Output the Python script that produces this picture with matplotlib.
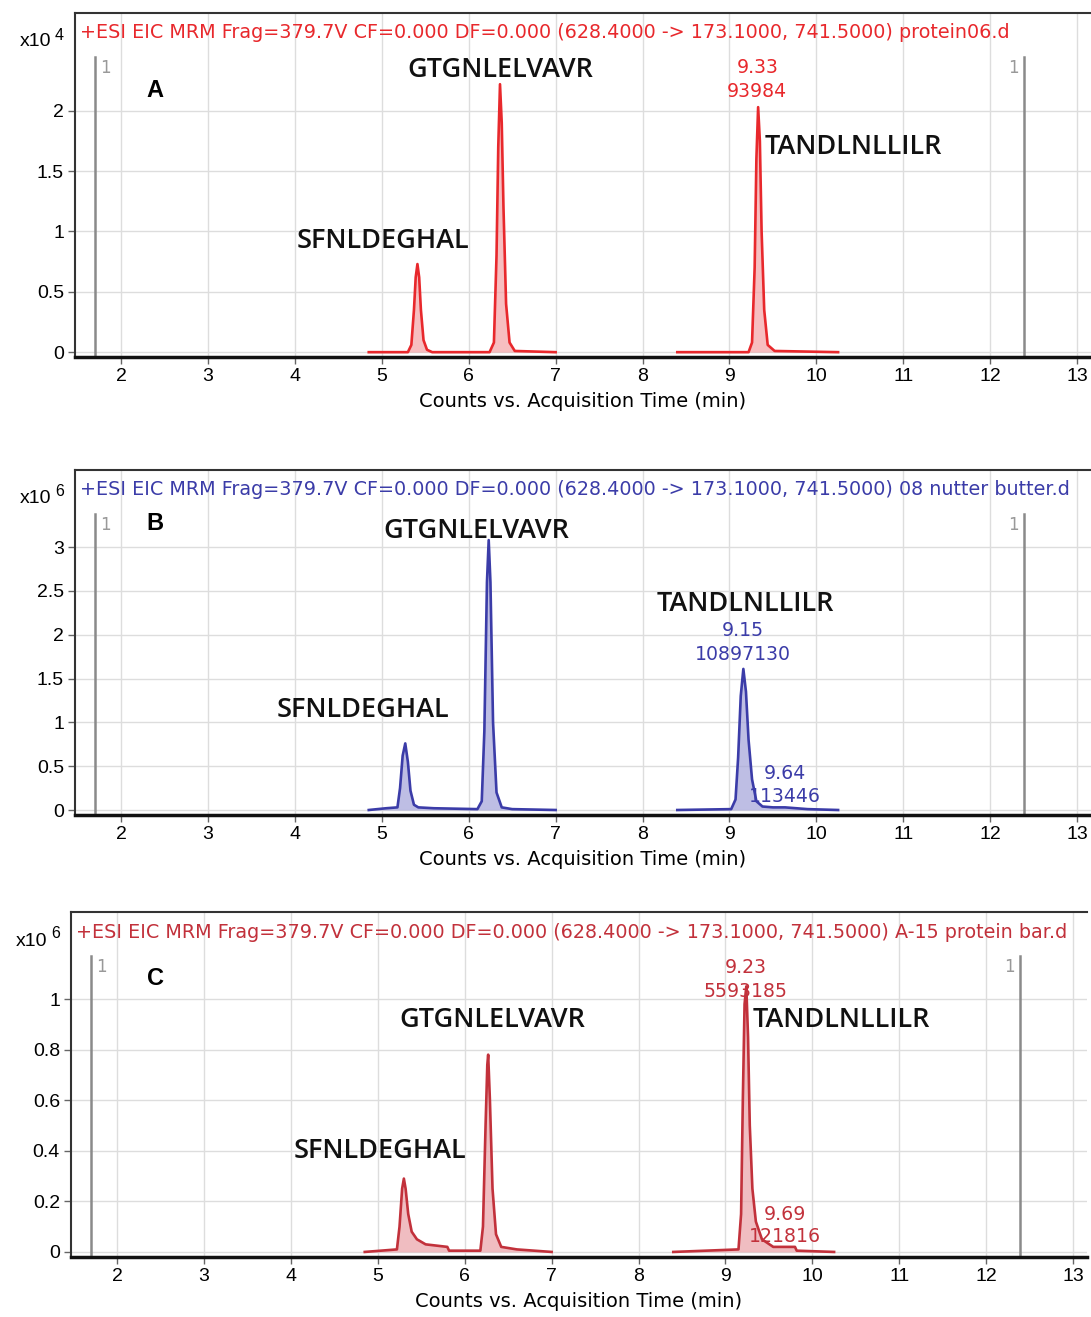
import matplotlib.pyplot as plt
import matplotlib.transforms as mtransforms

# ---- data (time in min, counts in panel units) ----
header = "+ESI EIC MRM Frag=379.7V CF=0.000 DF=0.000 (628.4000 -> 173.1000, 741.5000) "
samples = ["protein06.d", "08 nutter butter.d", "A-15 protein bar.d"]
panel_letters = ["A", "B", "C"]
exponents = ["4", "6", "6"]

# panel A (x10^4)
a_seg1_t = [4.85, 5.30, 5.34, 5.37, 5.39, 5.41, 5.43, 5.45, 5.48, 5.52, 5.58,
            6.24, 6.29, 6.32, 6.34, 6.36, 6.38, 6.40, 6.43, 6.47, 6.53, 7.00]
a_seg1_y = [0.0, 0.0, 0.06, 0.35, 0.62, 0.73, 0.62, 0.35, 0.1, 0.02, 0.0,
            0.0, 0.08, 0.8, 1.7, 2.22, 1.9, 1.2, 0.4, 0.08, 0.01, 0.0]
a_seg2_t = [8.40, 9.22, 9.26, 9.29, 9.31, 9.33, 9.35, 9.37, 9.40, 9.44, 9.52, 10.25]
a_seg2_y = [0.0, 0.0, 0.08, 0.7, 1.6, 2.03, 1.75, 1.0, 0.35, 0.06, 0.01, 0.0]

# panel B (x10^6)
b_seg1_t = [4.85, 5.05, 5.18, 5.21, 5.24, 5.27, 5.30, 5.33, 5.37, 5.42, 5.60,
            6.10, 6.15, 6.18, 6.21, 6.23, 6.25, 6.28, 6.32, 6.38, 6.50, 7.00]
b_seg1_y = [0.0, 0.02, 0.03, 0.25, 0.62, 0.76, 0.55, 0.22, 0.06, 0.03, 0.02,
            0.01, 0.1, 0.9, 2.6, 3.08, 2.6, 1.0, 0.2, 0.03, 0.01, 0.0]
b_seg2_t = [8.40, 9.02, 9.07, 9.10, 9.13, 9.16, 9.19, 9.22, 9.26, 9.31, 9.38, 9.50, 9.64, 9.90, 10.25]
b_seg2_y = [0.0, 0.01, 0.12, 0.6, 1.3, 1.61, 1.35, 0.8, 0.35, 0.1, 0.04, 0.03, 0.03, 0.01, 0.0]

# panel C (x10^6)
c_seg1_t = [4.85, 5.22, 5.25, 5.28, 5.30, 5.32, 5.35, 5.39, 5.45, 5.55, 5.80, 5.82,
            6.18, 6.21, 6.24, 6.26, 6.27, 6.29, 6.32, 6.36, 6.42, 6.60, 7.00]
c_seg1_y = [0.0, 0.01, 0.1, 0.25, 0.29, 0.25, 0.15, 0.08, 0.05, 0.03, 0.02, 0.005,
            0.005, 0.1, 0.5, 0.74, 0.78, 0.6, 0.25, 0.07, 0.02, 0.01, 0.0]
c_seg2_t = [8.40, 9.15, 9.18, 9.20, 9.22, 9.24, 9.26, 9.28, 9.31, 9.35, 9.42, 9.55, 9.80, 9.82, 10.25]
c_seg2_y = [0.0, 0.01, 0.15, 0.6, 0.98, 1.05, 0.85, 0.5, 0.25, 0.12, 0.05, 0.02, 0.02, 0.005, 0.0]

segments = [
    [(a_seg1_t, a_seg1_y), (a_seg2_t, a_seg2_y)],
    [(b_seg1_t, b_seg1_y), (b_seg2_t, b_seg2_y)],
    [(c_seg1_t, c_seg1_y), (c_seg2_t, c_seg2_y)],
]

y_ticks = [[0, 0.5, 1, 1.5, 2], [0, 0.5, 1, 1.5, 2, 2.5, 3], [0, 0.2, 0.4, 0.6, 0.8, 1]]
y_ticklabels = [["0", "0.5", "1", "1.5", "2"],
                ["0", "0.5", "1", "1.5", "2", "2.5", "3"],
                ["0", "0.2", "0.4", "0.6", "0.8", "1"]]
y_limits = [(-0.04, 2.81), (-0.057, 3.88), (-0.02, 1.344)]
x_ticks = list(range(2, 14))

# peptide labels: (text, x, y, ha)
peptides = [
    [("GTGNLELVAVR", 6.36, 2.34, "center"), ("SFNLDEGHAL", 5.01, 0.92, "center"), ("TANDLNLLILR", 9.41, 1.70, "left")],
    [("GTGNLELVAVR", 6.09, 3.18, "center"), ("SFNLDEGHAL", 4.78, 1.14, "center"), ("TANDLNLLILR", 9.18, 2.35, "center")],
    [("GTGNLELVAVR", 6.32, 0.917, "center"), ("SFNLDEGHAL", 5.03, 0.40, "center"), ("TANDLNLLILR", 9.31, 0.917, "left")],
]
# peak labels: (rt, area, x, y_rt, y_area)
peak_labels = [
    [("9.33", "93984", 9.32, 2.36, 2.16)],
    [("9.15", "10897130", 9.15, 2.05, 1.78), ("9.64", "113446", 9.64, 0.42, 0.15)],
    [("9.23", "5593185", 9.23, 1.126, 1.03), ("9.69", "121816", 9.69, 0.15, 0.06)],
]
letter_pos = [(2.39, 2.17), (2.39, 3.27), (2.44, 1.083)]
markers = [1.70, 12.39]

line_colors = ["#e8282c", "#3b3ca8", "#c2313b"]
fill_colors = ["#f4a3a6", "#a3a3d9", "#eba2a7"]

fig = plt.figure(figsize=(10.91, 13.17), dpi=100)
W, H = 1091.0, 1317.0
# axes boxes in pixels: left, top, bottom
boxes = [(75, 13, 357), (75, 470, 815), (71, 912, 1257)]

for i in range(3):
    left, top, bottom = boxes[i]
    ax = fig.add_axes([left / W, 1 - bottom / H, (1091 - 75) / W, (bottom - top) / H])
    col = line_colors[i]

    for t, y in segments[i]:
        ax.fill_between(t, 0, y, color=fill_colors[i], alpha=0.7, lw=0, zorder=2)
        ax.plot(t, y, color=col, lw=1.9, zorder=3)

    ylo, yhi = y_limits[i]
    for m in markers:
        ax.axvline(m, ymin=0, ymax=0.872, color="#8a8a8a", lw=1.8, zorder=1)
    ax.text(markers[0] + 0.06, yhi - (yhi - ylo) * 0.16, "1",
            color="#999999", fontsize=12, family="DejaVu Sans", ha="left", va="center")
    ax.text(markers[1] - 0.06, yhi - (yhi - ylo) * 0.16, "1",
            color="#999999", fontsize=12, family="DejaVu Sans", ha="right", va="center")

    ax.set_xlim(1.47, 13.16)
    ax.set_ylim(ylo, yhi)
    ax.set_xticks(x_ticks)
    ax.set_xticklabels([str(v) for v in x_ticks], fontsize=14, family="Liberation Sans")
    ax.set_yticks(y_ticks[i])
    ax.set_yticklabels(y_ticklabels[i], fontsize=14, family="Liberation Sans")
    ax.tick_params(axis="both", direction="out", length=5, width=1, color="#666666", pad=3)
    ax.grid(True, color="#dddddd", lw=1, zorder=0)
    ax.set_axisbelow(True)
    ax.set_xlabel("Counts vs. Acquisition Time (min)", fontsize=14,
                  family="Liberation Sans Narrow", labelpad=5)

    ax.spines["right"].set_visible(False)
    ax.spines["left"].set_color("#333333")
    ax.spines["left"].set_linewidth(1.5)
    ax.spines["top"].set_color("#333333")
    ax.spines["top"].set_linewidth(1.5)
    ax.spines["bottom"].set_color("#111111")
    ax.spines["bottom"].set_linewidth(2.5)

    # header
    off = mtransforms.ScaledTranslation(0.05, -0.20, fig.dpi_scale_trans)
    ax.text(0, 1, header + samples[i], transform=ax.transAxes + off, color=col,
            fontsize=13.8, family="DejaVu Sans", ha="left", va="center")
    # exponent
    off2 = mtransforms.ScaledTranslation(-0.24, -0.29, fig.dpi_scale_trans)
    ax.text(0, 1, "x10", transform=ax.transAxes + off2, fontsize=14,
            family="Liberation Sans", ha="right", va="center", clip_on=False)
    off3 = mtransforms.ScaledTranslation(-0.11, -0.22, fig.dpi_scale_trans)
    ax.text(0, 1, exponents[i], transform=ax.transAxes + off3, fontsize=11.5,
            family="Liberation Sans", ha="right", va="center", clip_on=False)

    ax.text(letter_pos[i][0], letter_pos[i][1], panel_letters[i], fontsize=17,
            fontweight="bold", family="Liberation Sans", ha="center", va="center")
    for name, x, y, ha in peptides[i]:
        ax.text(x, y, name, fontsize=19.5, fontweight="semibold", family="Open Sans",
                color="#111111", ha=ha, va="center", zorder=5)
    for rt, area, x, y1, y2 in peak_labels[i]:
        ax.text(x, y1, rt, color=col, fontsize=13.6, family="DejaVu Sans", ha="center", va="center", zorder=5)
        ax.text(x, y2, area, color=col, fontsize=13.6, family="DejaVu Sans", ha="center", va="center", zorder=5)

plt.savefig("out.png", dpi=100)
